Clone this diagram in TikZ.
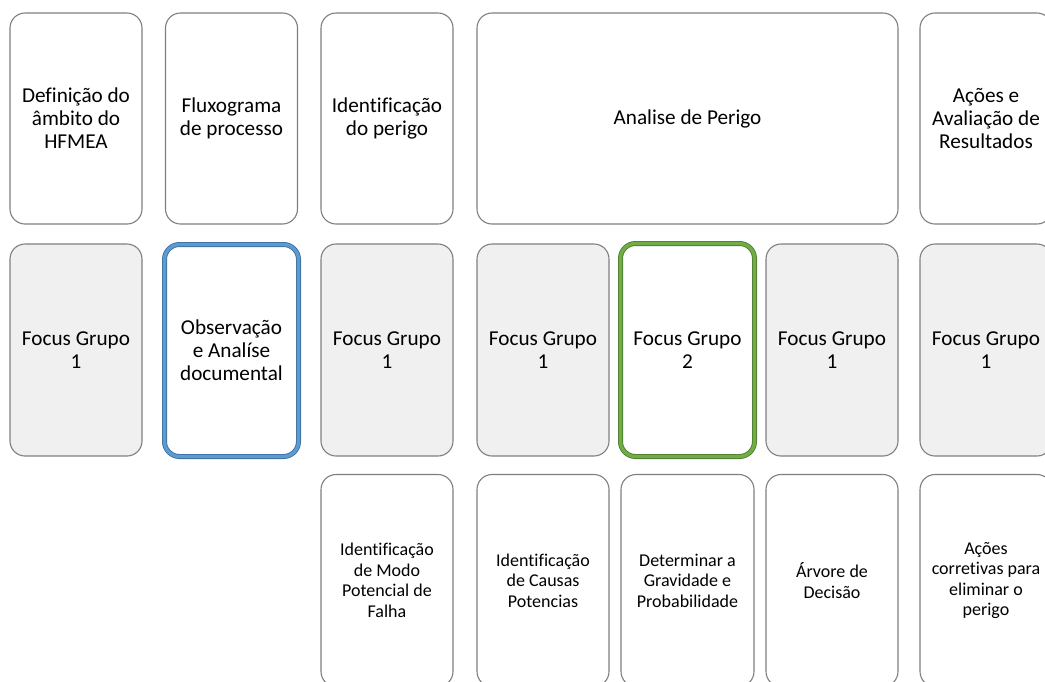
\documentclass[tikz,border=0pt]{standalone}
\usepackage{fontspec}
\setmainfont{Carlito}[Ligatures=NoCommon]
\definecolor{cardline}{HTML}{7F7F7F}
\definecolor{cardgray}{HTML}{F0F0F0}
\definecolor{bluemain}{HTML}{5B9BD5}
\definecolor{blueedge}{HTML}{41719C}
\definecolor{greenmain}{HTML}{70AD47}
\definecolor{greenedge}{HTML}{507E32}
\tikzset{
  card/.style={rectangle, rounded corners=15pt, draw=cardline, line width=1.1pt,
    fill=white, inner sep=2pt, outer sep=0pt, align=center, text=black,
    minimum width=132pt, minimum height=211pt,
    font=\fontsize{21.2}{23}\selectfont},
  small/.style={font=\fontsize{18}{20.5}\selectfont},
  shaded/.style={fill=cardgray},
  bluecard/.style={card, draw=blueedge, line width=5pt, minimum width=134pt,
    minimum height=212pt,
    postaction={draw=bluemain, line width=3.2pt, rounded corners=15pt}},
  greencard/.style={card, draw=greenedge, line width=5pt, minimum width=134pt,
    minimum height=213pt,
    postaction={draw=greenmain, line width=3.2pt, rounded corners=15pt}},
}
\begin{document}
\begin{tikzpicture}[x=1pt, y=-1pt]
\useasboundingbox (0,0) rectangle (1045,681);
% top row: stages
\node[card] (s1) at (76,118.5) {Definição do\\âmbito do\\HFMEA};
\node[card] (s2) at (231.5,118.5) {Fluxograma\\de processo};
\node[card] (s3) at (387,118.5) {Identificação\\do perigo};
\node[card, minimum width=421pt] (s4) at (687.5,118.5) {Analise de Perigo};
\node[card] (s5) at (986,118.5) {Ações e\\Avaliação de\\Resultados};
% middle row: methods
\node[card, shaded, minimum height=212pt] (m1) at (76,350) {Focus Grupo\\1};
\node[bluecard] (m2) at (231.5,350.5) {Observação\\e Analíse\\documental};
\node[card, shaded, minimum height=212pt] (m3) at (387,350) {Focus Grupo\\1};
\node[card, shaded, minimum height=212pt] (m4) at (543,350) {Focus Grupo\\1};
\node[greencard] (m5) at (687.5,350) {Focus Grupo\\2};
\node[card, shaded, minimum height=212pt] (m6) at (832,350) {Focus Grupo\\1};
\node[card, shaded, minimum height=212pt] (m7) at (986,350) {Focus Grupo\\1};
% bottom row: tasks
\node[card, small, minimum height=212pt] (t3) at (387,580.5) {Identificação\\de Modo\\Potencial de\\Falha};
\node[card, small, minimum height=212pt] (t4) at (543,580.5) {Identificação\\de Causas\\Potencias};
\node[card, small, minimum height=212pt, minimum width=133pt] (t5) at (687.5,580.5) {Determinar a\\Gravidade e\\Probabilidade};
\node[card, small, minimum height=212pt] (t6) at (832,580.5) {Árvore de\\Decisão};
\node[card, small, minimum height=212pt] (t7) at (986,580.5) {Ações\\corretivas para\\eliminar o\\perigo};
\end{tikzpicture}
\end{document}
